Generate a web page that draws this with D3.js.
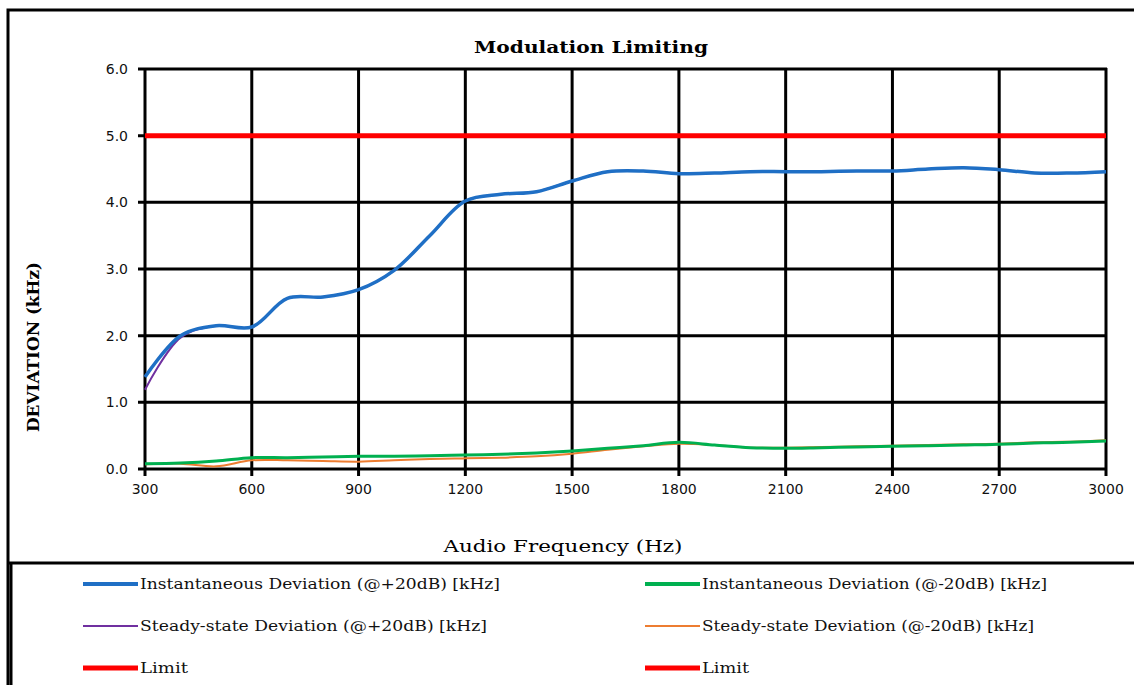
<!DOCTYPE html>
<html><head><meta charset="utf-8">
<script src="https://cdn.jsdelivr.net/npm/d3@7"></script>
<style>body{margin:0;background:#fff}svg{display:block}</style>
</head><body><svg id="c" width="1134" height="685"></svg>
<script>
const freqs = [300,400,500,600,700,800,900,1000,1100,1200,1300,1400,1500,1600,1700,1800,1900,2000,2100,2200,2300,2400,2500,2600,2700,2800,2900,3000];
const instPlus20 = [1.38,2.00,2.15,2.13,2.56,2.58,2.69,2.98,3.50,4.02,4.12,4.16,4.32,4.46,4.47,4.43,4.44,4.46,4.46,4.46,4.47,4.47,4.50,4.52,4.49,4.44,4.44,4.46];
const steadyPlus20 = [1.19,1.97,2.15,2.13,2.56,2.58,2.69,2.98,3.50,4.02,4.12,4.16,4.32,4.46,4.47,4.43,4.44,4.46,4.46,4.46,4.47,4.47,4.50,4.52,4.49,4.44,4.44,4.46];
const instMinus20 = [0.08,0.09,0.12,0.17,0.17,0.18,0.19,0.19,0.20,0.21,0.22,0.24,0.27,0.31,0.35,0.40,0.36,0.32,0.31,0.32,0.33,0.34,0.35,0.36,0.37,0.39,0.40,0.42];
const steadyMinus20 = [0.07,0.08,0.04,0.13,0.13,0.12,0.11,0.13,0.15,0.16,0.17,0.19,0.23,0.29,0.34,0.38,0.36,0.32,0.32,0.33,0.34,0.35,0.36,0.37,0.38,0.40,0.41,0.43];
const limitValue = 5.0;
const xTicks = [300,600,900,1200,1500,1800,2100,2400,2700,3000];
const yTicks = [0,1,2,3,4,5,6];
const legendLabels = ["Instantaneous Deviation (@+20dB) [kHz]","Steady-state Deviation (@+20dB) [kHz]","Limit","Instantaneous Deviation (@-20dB) [kHz]","Steady-state Deviation (@-20dB) [kHz]","Limit"];
const titleText = "Modulation Limiting";
const xLabel = "Audio Frequency (Hz)";
const yLabel = "DEVIATION (kHz)";

const svg = d3.select("#c");
const x = d3.scaleLinear().domain([300,3000]).range([145,1106]);
const y = d3.scaleLinear().domain([0,6]).range([469,69]);

// frames
svg.append("path").attr("d","M8,1000 L8,10 L1140,10").attr("fill","none").attr("stroke","#000").attr("stroke-width",3);
svg.append("line").attr("x1",8).attr("x2",1140).attr("y1",563).attr("y2",563).attr("stroke","#000").attr("stroke-width",3);
svg.append("line").attr("x1",11).attr("x2",11).attr("y1",563).attr("y2",700).attr("stroke","#000").attr("stroke-width",3);

// grid
const g = svg.append("g");
g.selectAll(".hg").data(yTicks).join("line")
  .attr("x1",138).attr("x2",1107).attr("y1",d=>y(d)).attr("y2",d=>y(d))
  .attr("stroke","#000").attr("stroke-width",3);
g.selectAll(".vg").data(xTicks).join("line")
  .attr("x1",d=>x(d)).attr("x2",d=>x(d)).attr("y1",68).attr("y2",476)
  .attr("stroke","#000").attr("stroke-width",3);

// tick labels
g.selectAll(".yl").data(yTicks).join("text")
  .attr("x",128).attr("y",d=>y(d)).attr("dy","0.35em").attr("text-anchor","end")
  .attr("font-family","DejaVu Sans").attr("font-size",14).attr("fill","#111")
  .text(d=>d3.format(".1f")(d));
g.selectAll(".xl").data(xTicks).join("text")
  .attr("x",d=>x(d)).attr("y",489).attr("dy","0.35em").attr("text-anchor","middle")
  .attr("font-family","DejaVu Sans").attr("font-size",14).attr("fill","#111")
  .text(d=>d);

// series
const mk = vals => d3.line().x((d,i)=>x(freqs[i])).y(d=>y(d)).curve(d3.curveCatmullRom.alpha(0.5))(vals);
svg.append("path").attr("d",mk(steadyMinus20)).attr("fill","none").attr("stroke","#ED7D31").attr("stroke-width",2);
svg.append("path").attr("d",mk(instMinus20)).attr("fill","none").attr("stroke","#00B050").attr("stroke-width",3);
svg.append("path").attr("d",mk(steadyPlus20)).attr("fill","none").attr("stroke","#7030A0").attr("stroke-width",2);
svg.append("path").attr("d",mk(instPlus20)).attr("fill","none").attr("stroke","#1F6FC5").attr("stroke-width",3.5);
svg.append("line").attr("x1",x(300)).attr("x2",x(3000)).attr("y1",y(limitValue)).attr("y2",y(limitValue))
  .attr("stroke","#FF0000").attr("stroke-width",5);

// titles
svg.append("text").attr("x",591).attr("y",53).attr("text-anchor","middle")
  .attr("font-family","DejaVu Serif").attr("font-weight","bold").attr("font-size",17)
  .attr("textLength",234).attr("lengthAdjust","spacingAndGlyphs").text(titleText);
svg.append("text").attr("x",563).attr("y",552).attr("text-anchor","middle")
  .attr("font-family","DejaVu Serif").attr("font-size",17)
  .attr("textLength",239).attr("lengthAdjust","spacingAndGlyphs").text(xLabel);
svg.append("text").attr("transform","translate(39,347) rotate(-90)").attr("text-anchor","middle")
  .attr("font-family","DejaVu Serif").attr("font-weight","bold").attr("font-size",17)
  .attr("textLength",170).attr("lengthAdjust","spacingAndGlyphs").text(yLabel);

// legend
const legColors = ["#1F6FC5","#7030A0","#FF0000","#00B050","#ED7D31","#FF0000"];
const legWidths = [4,2,5,4,2,5];
const legTextLen = [360,347,48,345,332,47];
const lg = svg.append("g");
legendLabels.forEach((lab,i)=>{
  const col = Math.floor(i/3), row = i%3;
  const lx = col===0 ? 83 : 645;
  const ly = 584 + row*42;
  lg.append("line").attr("x1",lx).attr("x2",lx+55).attr("y1",ly).attr("y2",ly)
    .attr("stroke",legColors[i]).attr("stroke-width",legWidths[i]);
  lg.append("text").attr("x",lx+57).attr("y",ly).attr("dy","0.35em")
    .attr("font-family","DejaVu Serif").attr("font-size",15).attr("fill","#111")
    .attr("textLength",legTextLen[i]).attr("lengthAdjust","spacingAndGlyphs").text(lab);
});
</script></body></html>
